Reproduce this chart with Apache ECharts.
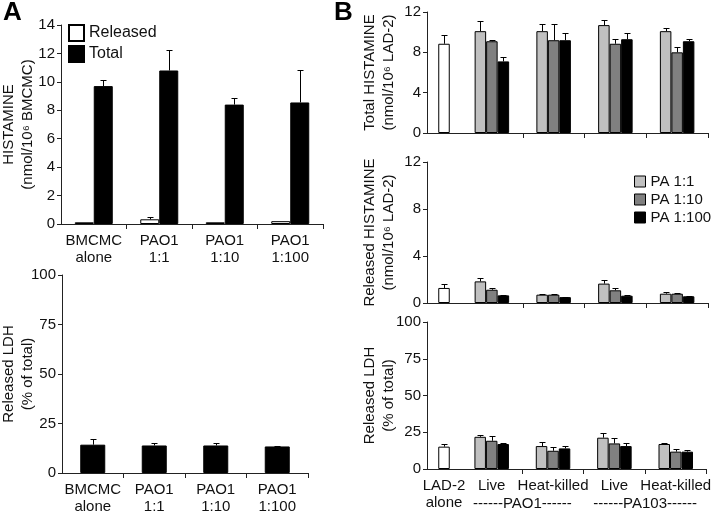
<!DOCTYPE html>
<html><head><meta charset="utf-8">
<script src="https://cdn.jsdelivr.net/npm/echarts@6/dist/echarts.min.js"></script>
<style>html,body{margin:0;padding:0;background:#fff}#c{width:714px;height:515px}</style>
</head><body><div id="c"></div>
<script>
// ---------- Panel A data ----------
const catA = ['BMCMC\nalone', 'PAO1\n1:1', 'PAO1\n1:10', 'PAO1\n1:100'];
const histReleasedA = [0.12, 0.33, 0.12, 0.2];
const histReleasedAErr = [0.12, 0.47, 0.12, 0.2];
const histTotalA = [9.7, 10.8, 8.4, 8.55];
const histTotalAErr = [10.1, 12.25, 8.85, 10.8];
const ldhA = [14.3, 13.9, 13.9, 13.4];
const ldhAErr = [17.1, 15.0, 15.1, 13.6];
const ticksA1 = [0, 14, 2];
const ticksA2 = [0, 100, 25];
const titleA1 = ['HISTAMINE', '(nmol/10\u2076 BMCMC)'];
const titleA2 = ['Released LDH', '(% of total)'];

// ---------- Panel B data ----------
const catBLeft = ['LAD-2\nalone'];
const catB = ['Live', 'Heat-killed', 'Live', 'Heat-killed'];
const strainB = ['------PAO1------', '------PA103------'];
const totalLad = [8.85];
const totalLadErr = [9.75];
const totalPA1 = [10.1, 10.1, 10.7, 10.1];
const totalPA1Err = [11.1, 10.8, 11.25, 10.45];
const totalPA10 = [9.1, 9.2, 8.85, 8.0];
const totalPA10Err = [9.2, 10.8, 9.35, 8.55];
const totalPA100 = [7.1, 9.2, 9.3, 9.1];
const totalPA100Err = [7.55, 9.95, 9.9, 9.35];
const relLad = [1.28];
const relLadErr = [1.65];
const relPA1 = [1.84, 0.71, 1.65, 0.79];
const relPA1Err = [2.16, 0.8, 1.93, 0.91];
const relPA10 = [1.13, 0.71, 1.08, 0.79];
const relPA10Err = [1.28, 0.74, 1.3, 0.88];
const relPA100 = [0.65, 0.5, 0.62, 0.57];
const relPA100Err = [0.71, 0.52, 0.65, 0.62];
const ldhLad = [15.2];
const ldhLadErr = [17];
const ldhPA1 = [21.9, 15.6, 21.3, 17];
const ldhPA1Err = [23, 18.6, 24.7, 17.9];
const ldhPA10 = [19.2, 12.4, 17.4, 11.8];
const ldhPA10Err = [22.4, 14.7, 20.8, 13.3];
const ldhPA100 = [17, 14, 15.6, 11.8];
const ldhPA100Err = [17.4, 15.8, 17.4, 12.9];
const ticksB12 = [0, 12, 4];
const ticksB100 = [0, 100, 25];
const titleB1 = ['Total HISTAMINE', '(nmol/10\u2076 LAD-2)'];
const titleB2 = ['Released HISTAMINE', '(nmol/10\u2076 LAD-2)'];
const titleB3 = ['Released LDH', '(% of total)'];

const FONT = 'Liberation Sans, Arial, sans-serif';
const TXT = '#111';
const AX = '#222';
const C1 = '#c0c0c0', C10 = '#808080', C100 = '#000000';

function errSeries(xi, yi, vals, errs, offset) {
  return {
    type: 'custom', xAxisIndex: xi, yAxisIndex: yi, z: 10, silent: true,
    data: vals.map((v, i) => [i, v, errs[i]]),
    renderItem: function (params, api) {
      const c = api.value(0), v = api.value(1), e = api.value(2);
      if (!(e > v)) return null;
      const p0 = api.coord([c, v]); const p1 = api.coord([c, e]);
      const x = Math.round(p0[0] + offset) + 0.5;
      const yTop = Math.round(p1[1]) + 0.5;
      return { type: 'group', children: [
        { type: 'line', shape: { x1: x, y1: p0[1], x2: x, y2: yTop }, style: { stroke: '#000', lineWidth: 1 } },
        { type: 'line', shape: { x1: x - 3, y1: yTop, x2: x + 3, y2: yTop }, style: { stroke: '#000', lineWidth: 1 } }
      ] };
    }
  };
}
function bar(name, xi, yi, vals, color, w) {
  return { type: 'bar', name: name, xAxisIndex: xi, yAxisIndex: yi, data: vals, barWidth: w, barGap: '0%',
    itemStyle: { color: color, borderColor: '#000', borderWidth: 1 }, silent: true, z: 2 };
}
function yAx(gi, t, show) {
  return { type: 'value', gridIndex: gi, min: t[0], max: t[1], interval: t[2], show: show !== false,
    axisLine: { show: true, lineStyle: { color: AX, width: 1 } },
    axisTick: { show: true, length: 4, lineStyle: { color: AX } },
    splitLine: { show: false },
    axisLabel: { fontFamily: FONT, fontSize: 15, color: TXT, margin: 6 } };
}
function xAx(gi, cats, showLabel, tickFn) {
  return { type: 'category', gridIndex: gi, data: cats,
    axisLine: { show: true, lineStyle: { color: AX, width: 1 } },
    axisTick: { show: !!tickFn, length: 5, interval: tickFn || 0, lineStyle: { color: AX } },
    axisLabel: { show: showLabel, interval: 0, fontFamily: FONT, fontSize: 15, color: TXT, margin: 8, lineHeight: 17 },
    splitLine: { show: false } };
}
function axisTitle(lines, x1, x2, yc) {
  return [x1, x2].map((x, i) => ({
    type: 'text', x: x, y: yc, rotation: Math.PI / 2, silent: true,
    style: { text: lines[i], fontFamily: FONT, fontSize: 15, fill: TXT, align: 'center', verticalAlign: 'middle' }
  }));
}
const inner = (i) => i > 0;

const grids = [
  { left: 61, top: 25, width: 262, height: 199 },
  { left: 62, top: 275, width: 246, height: 198 },
  { left: 427, top: 12, width: 34, height: 121 },
  { left: 461, top: 12, width: 247, height: 121 },
  { left: 427, top: 162, width: 34, height: 141 },
  { left: 461, top: 162, width: 247, height: 141 },
  { left: 427, top: 322, width: 34, height: 147 },
  { left: 461, top: 322, width: 247, height: 147 }
];

const xAxes = [
  xAx(0, catA, true, inner),
  xAx(1, catA, true, inner),
  xAx(2, catBLeft, false, null),
  xAx(3, catB, false, inner),
  xAx(4, catBLeft, false, null),
  xAx(5, catB, false, inner),
  xAx(6, catBLeft, true, null),
  xAx(7, catB, true, inner),
  { type: 'category', gridIndex: 7, data: strainB, position: 'bottom', offset: 17,
    axisLine: { show: false }, axisTick: { show: false }, splitLine: { show: false },
    axisLabel: { interval: 0, fontFamily: FONT, fontSize: 15, color: TXT, margin: 10 } }
];
const yAxes = [
  yAx(0, ticksA1), yAx(1, ticksA2),
  yAx(2, ticksB12), yAx(3, ticksB12, false),
  yAx(4, ticksB12), yAx(5, ticksB12, false),
  yAx(6, ticksB100), yAx(7, ticksB100, false)
];

const series = [
  bar('Released', 0, 0, histReleasedA, '#ffffff', 19),
  bar('Total', 0, 0, histTotalA, '#000000', 19),
  errSeries(0, 0, histReleasedA, histReleasedAErr, -9.5),
  errSeries(0, 0, histTotalA, histTotalAErr, 9.5),
  bar('LDH', 1, 1, ldhA, '#000000', 25),
  errSeries(1, 1, ldhA, ldhAErr, 0),
  // B top
  bar('LAD-2 alone', 2, 2, totalLad, '#ffffff', 11.5),
  errSeries(2, 2, totalLad, totalLadErr, 0),
  bar('PA 1:1', 3, 3, totalPA1, C1, 11.5),
  bar('PA 1:10', 3, 3, totalPA10, C10, 11.5),
  bar('PA 1:100', 3, 3, totalPA100, C100, 11.5),
  errSeries(3, 3, totalPA1, totalPA1Err, -11.5),
  errSeries(3, 3, totalPA10, totalPA10Err, 0),
  errSeries(3, 3, totalPA100, totalPA100Err, 11.5),
  // B middle
  bar('LAD-2 alone', 4, 4, relLad, '#ffffff', 11.5),
  errSeries(4, 4, relLad, relLadErr, 0),
  bar('PA 1:1', 5, 5, relPA1, C1, 11.5),
  bar('PA 1:10', 5, 5, relPA10, C10, 11.5),
  bar('PA 1:100', 5, 5, relPA100, C100, 11.5),
  errSeries(5, 5, relPA1, relPA1Err, -11.5),
  errSeries(5, 5, relPA10, relPA10Err, 0),
  errSeries(5, 5, relPA100, relPA100Err, 11.5),
  // B bottom
  bar('LAD-2 alone', 6, 6, ldhLad, '#ffffff', 11.5),
  errSeries(6, 6, ldhLad, ldhLadErr, 0),
  bar('PA 1:1', 7, 7, ldhPA1, C1, 11.5),
  bar('PA 1:10', 7, 7, ldhPA10, C10, 11.5),
  bar('PA 1:100', 7, 7, ldhPA100, C100, 11.5),
  errSeries(7, 7, ldhPA1, ldhPA1Err, -11.5),
  errSeries(7, 7, ldhPA10, ldhPA10Err, 0),
  errSeries(7, 7, ldhPA100, ldhPA100Err, 11.5)
];

const graphics = [].concat(
  axisTitle(titleA1, 9, 28, 124.5),
  axisTitle(titleA2, 9, 28, 374),
  axisTitle(titleB1, 370, 389, 72.5),
  axisTitle(titleB2, 370, 389, 232.5),
  axisTitle(titleB3, 370, 389, 395.5)
);

const chart = echarts.init(document.getElementById('c'), null, { renderer: 'canvas' });
chart.setOption({
  animation: false,
  backgroundColor: '#ffffff',
  textStyle: { fontFamily: FONT },
  title: [
    { text: 'A', left: 3, top: 0, padding: 0, textStyle: { fontFamily: FONT, fontSize: 26, fontWeight: 'bold', color: '#000' } },
    { text: 'B', left: 334, top: 0, padding: 0, textStyle: { fontFamily: FONT, fontSize: 26, fontWeight: 'bold', color: '#000' } }
  ],
  legend: [
    { data: ['Released', 'Total'], orient: 'vertical', left: 68, top: 24, padding: 0, itemWidth: 15, itemHeight: 16, itemGap: 3,
      icon: 'rect', selectedMode: false, textStyle: { fontFamily: FONT, fontSize: 16, color: TXT } },
    { data: ['PA 1:1', 'PA 1:10', 'PA 1:100'], orient: 'vertical', left: 634, top: 173, padding: 0, itemWidth: 11, itemHeight: 11, itemGap: 1,
      itemStyle: { borderColor: '#000', borderWidth: 1 },
      icon: 'rect', selectedMode: false, textStyle: { fontFamily: FONT, fontSize: 15, color: TXT, lineHeight: 17 } }
  ],
  grid: grids,
  xAxis: xAxes,
  yAxis: yAxes,
  graphic: graphics,
  series: series
});
</script></body></html>
